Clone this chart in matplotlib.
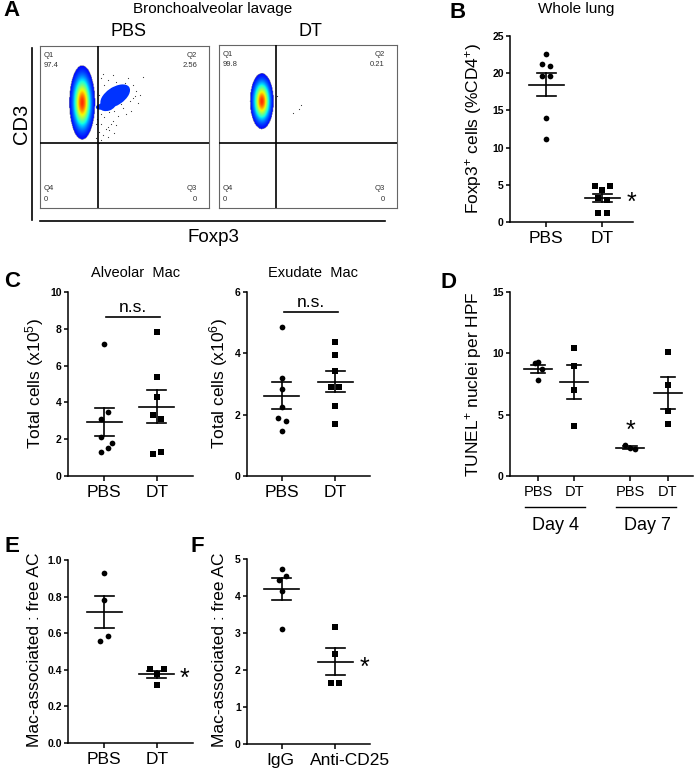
import numpy as np
import matplotlib
matplotlib.use("Agg")
import matplotlib.pyplot as plt
from matplotlib.colors import ListedColormap
from matplotlib.patches import Ellipse
from matplotlib.lines import Line2D
from matplotlib.transforms import ScaledTranslation

plt.rcParams["font.family"] = ["Liberation Sans", "DejaVu Sans"]
plt.rcParams["mathtext.default"] = "regular"

W, H = 696, 774

# ---------------- data ----------------
# A: flow cytometry quadrant statistics
flow_groups = ["PBS", "DT"]
flow_q1 = ["97.4", "99.8"]
flow_q2 = ["2.56", "0.21"]
flow_q3 = ["0", "0"]
flow_q4 = ["0", "0"]
# density blobs (cx, cy, sx, sy) in box fraction
flow_blobs = [(0.249, 0.648, 0.031, 0.093), (0.240, 0.656, 0.027, 0.070)]
pbs_dots_x = [0.36, 0.38, 0.40, 0.42, 0.45, 0.47, 0.50, 0.52, 0.55, 0.57,
              0.35, 0.37, 0.39, 0.41, 0.44, 0.48, 0.53, 0.56, 0.58, 0.61,
              0.34, 0.36, 0.38, 0.40, 0.43, 0.35, 0.37, 0.39, 0.42, 0.46,
              0.33, 0.35, 0.36, 0.38, 0.41, 0.44, 0.49, 0.51, 0.54, 0.59,
              0.37, 0.43, 0.47, 0.52, 0.55, 0.33, 0.34, 0.36, 0.40, 0.45]
pbs_dots_y = [0.80, 0.76, 0.79, 0.74, 0.78, 0.75, 0.77, 0.73, 0.76, 0.72,
              0.70, 0.66, 0.62, 0.59, 0.60, 0.64, 0.66, 0.69, 0.65, 0.81,
              0.55, 0.52, 0.56, 0.50, 0.54, 0.47, 0.45, 0.49, 0.52, 0.57,
              0.43, 0.40, 0.58, 0.61, 0.48, 0.46, 0.62, 0.58, 0.60, 0.70,
              0.83, 0.82, 0.71, 0.80, 0.68, 0.52, 0.63, 0.42, 0.44, 0.51]
dt_dots_x = [0.416, 0.45, 0.46, 0.326]
dt_dots_y = [0.58, 0.61, 0.63, 0.69]

# B: whole lung Foxp3+ (%CD4+)
b_pbs = [22.6, 21.3, 21.0, 19.6, 19.6, 14.0, 11.2]
b_dt = [4.8, 4.8, 4.3, 3.2, 3.0, 1.2, 1.2]

# C: total cells
c_alv_pbs = [7.2, 3.5, 3.1, 2.1, 1.8, 1.5, 1.3]
c_alv_dt = [7.8, 5.4, 4.3, 3.3, 3.1, 1.2, 1.3]
c_exu_pbs = [4.87, 3.2, 2.84, 2.25, 1.89, 1.80, 1.46]
c_exu_dt = [4.38, 3.96, 3.43, 2.89, 2.91, 2.28, 1.71]

# D: TUNEL+ nuclei per HPF
d_labels = ["PBS", "DT", "PBS", "DT"]
d_days = ["Day 4", "Day 7"]
d_pbs4 = [9.21, 9.27, 8.70, 7.83]
d_dt4 = [10.43, 9.0, 7.04, 4.08]
d_pbs7 = [2.5, 2.25, 2.2]
d_dt7 = [10.1, 7.42, 5.27, 4.21]

# E / F: Mac-associated : free AC
e_pbs = [0.931, 0.780, 0.587, 0.560]
e_dt = [0.404, 0.404, 0.375, 0.318]
f_igg = [4.73, 4.54, 4.43, 4.14, 3.10]
f_anti = [3.15, 2.43, 1.66, 1.66]

# horizontal point offsets (pixels) so overlapping points sit side by side
b_dx = [[0, -4.5, 3.5, -4.5, 3.5, 0, 0], [-7.5, 7.5, 0, -4.5, 4.5, -4.5, 4.5]]
c1_dx = [[0, 4, -3.5, -3.5, 7.5, 4, -3.5], [0, 0, 0, -3.7, 3.7, -3.7, 3.7]]
c2_dx = [[0, 0, 0, 0, -3.7, 3.7, 0], [0, 0, 0, -3.7, 3.7, 0, 0]]
d_dx = [[-3.5, 0, 3.5, 0], [0, 0, 0, 0], [-5, 0, 5], [0, 0, 0, 0]]
e_dx = [[0, 0, 3.7, -3.7], [-7.3, 7.3, 0, 0]]
f_dx = [[0, 4, -3, 0, 0], [0, 0, -3.7, 3.7]]

fig = plt.figure(figsize=(W / 100, H / 100), dpi=100)


def add_ax(left, top, right, bottom):
    return fig.add_axes([left / W, 1 - bottom / H, (right - left) / W, (bottom - top) / H])


def ftext(x, y, s, **kw):
    kw.setdefault("ha", "center")
    kw.setdefault("va", "center")
    fig.text(x / W, 1 - y / H, s, **kw)


def fline(xs, ys, lw=1.2):
    fig.add_artist(Line2D([x / W for x in xs], [1 - y / H for y in ys],
                          transform=fig.transFigure, color="k", lw=lw))


def style(ax, xlim, xticks, xlabels, ylim, yticks, ylabs, xsize=12.5):
    ax.set_xlim(*xlim)
    ax.set_ylim(*ylim)
    for s in ["top", "right"]:
        ax.spines[s].set_visible(False)
    for s in ["left", "bottom"]:
        ax.spines[s].set_linewidth(1.1)
    ax.set_xticks(xticks)
    ax.set_xticklabels(xlabels, fontsize=xsize)
    ax.set_yticks(yticks)
    ax.set_yticklabels(ylabs, fontsize=7.5, fontweight="bold")
    ax.tick_params(axis="y", length=3, width=1.1, pad=1.5)
    ax.tick_params(axis="x", length=3.5, width=1.1, pad=3)


def dots(ax, xs, groups, markers, offsets, half_mean=17.5, half_cap=9.5):
    x0, x1 = ax.get_xlim()
    scale = (x1 - x0) / (ax.get_position().width * W)
    for x, vals, m, offs in zip(xs, groups, markers, offsets):
        vals = np.asarray(vals, dtype=float)
        xx = x + np.asarray(offs) * scale
        ax.scatter(xx, vals, marker=m, s=17 if m == "o" else 15, color="k",
                   linewidths=0, zorder=3, clip_on=False)
        mean = vals.mean()
        sem = vals.std(ddof=1) / np.sqrt(len(vals))
        hm, hc = half_mean * scale, half_cap * scale
        ax.plot([x - hm, x + hm], [mean, mean], color="k", lw=1.2, zorder=4)
        ax.plot([x, x], [mean - sem, mean + sem], color="k", lw=1.2, zorder=4)
        for yy in (mean - sem, mean + sem):
            ax.plot([x - hc, x + hc], [yy, yy], color="k", lw=1.2, zorder=4)


# ---------------- A: flow plots ----------------
cmap = ListedColormap(plt.cm.jet(np.linspace(0.13, 0.86, 256)))
boxes = [(40, 46, 209, 208), (219, 45, 397, 208)]
gates = [(0.343, 0.40), (0.32, 0.40)]
g = np.linspace(0, 1, 300)
gx, gy = np.meshgrid(g, g)
for i, (box, gate, blob) in enumerate(zip(boxes, gates, flow_blobs)):
    ax = add_ax(*box)
    ax.set_xlim(0, 1)
    ax.set_ylim(0, 1)
    ax.set_xticks([])
    ax.set_yticks([])
    for s in ax.spines.values():
        s.set_color("#666666")
        s.set_linewidth(0.8)
    cx, cy, sx, sy = blob
    f = np.exp(-0.5 * (((gx - cx) / sx) ** 2 + ((gy - cy) / sy) ** 2))
    f = np.ma.masked_less(f, 0.05)
    if i == 0:
        ax.scatter(pbs_dots_x, pbs_dots_y, s=0.7, color="#333333", linewidths=0, zorder=1)
        ax.add_patch(Ellipse((0.445, 0.69), 0.20, 0.11, angle=35,
                             color="#0033ff", lw=0, zorder=2))
        ax.add_patch(Ellipse((0.40, 0.635), 0.10, 0.07, angle=20,
                             color="#0033ff", lw=0, zorder=2))
        ax.add_patch(Ellipse((0.36, 0.625), 0.06, 0.035, angle=10,
                             color="#0033ff", lw=0, zorder=2))
    else:
        ax.scatter(dt_dots_x, dt_dots_y, s=0.7, color="#333333", linewidths=0, zorder=1)
    ax.imshow(f, cmap=cmap, vmin=0.05, vmax=1, extent=[0, 1, 0, 1],
              origin="lower", aspect="auto", interpolation="bilinear", zorder=3)
    ax.axvline(gate[0], color="k", lw=1.2, zorder=5)
    ax.axhline(gate[1], color="k", lw=1.2, zorder=5)
    kw = dict(fontsize=5.5, color="#333333", transform=ax.transAxes)
    ax.text(0.02, 0.94, "Q1", ha="left", va="center", **kw)
    ax.text(0.02, 0.88, flow_q1[i], ha="left", va="center", **kw)
    ax.text(0.93, 0.94, "Q2", ha="right", va="center", **kw)
    ax.text(0.93, 0.88, flow_q2[i], ha="right", va="center", **kw)
    ax.text(0.02, 0.12, "Q4", ha="left", va="center", **kw)
    ax.text(0.02, 0.055, flow_q4[i], ha="left", va="center", **kw)
    ax.text(0.93, 0.12, "Q3", ha="right", va="center", **kw)
    ax.text(0.93, 0.055, flow_q3[i], ha="right", va="center", **kw)

ftext(213, 9, "Bronchoalveolar lavage", fontsize=11)
ftext(128, 32, flow_groups[0], fontsize=13)
ftext(310, 32, flow_groups[1], fontsize=13)
fline([32, 32], [48, 220])
fline([40, 385], [221, 221])
ftext(22, 124, "CD3", fontsize=14.5, rotation=90)
ftext(213, 237, "Foxp3", fontsize=13.5)

# ---------------- B ----------------
ax = add_ax(510, 36, 633, 222)
style(ax, (0.357, 2.55), [1, 2], ["PBS", "DT"], (0, 25), range(0, 26, 5),
      [str(v) for v in range(0, 26, 5)])
dots(ax, [1, 2], [b_pbs, b_dt], ["o", "s"], b_dx, half_mean=17.5, half_cap=9.5)
ftext(576, 9, "Whole lung", fontsize=11)
ftext(474, 129, "Foxp3$^{+}$ cells (%CD4$^{+}$)", fontsize=12.5, rotation=90)
ftext(631, 203, "*", fontsize=18)

# ---------------- C ----------------
ax = add_ax(68, 292, 193, 476)
style(ax, (0.32, 2.68), [1, 2], ["PBS", "DT"], (0, 10), range(0, 11, 2),
      [str(v) for v in range(0, 11, 2)])
dots(ax, [1, 2], [c_alv_pbs, c_alv_dt], ["o", "s"], c1_dx)
ax.plot([1.03, 2.05], [8.65, 8.65], color="k", lw=1.2, clip_on=False)
ax.text(1.54, 8.75, "n.s.", ha="center", va="bottom", fontsize=12.5)
ftext(136, 273, "Alveolar  Mac", fontsize=10.5)
ftext(35, 384, "Total cells (x10$^{5}$)", fontsize=12.5, rotation=90)

ax = add_ax(247, 292, 370, 476)
style(ax, (0.34, 2.66), [1, 2], ["PBS", "DT"], (0, 6), range(0, 7, 2),
      [str(v) for v in range(0, 7, 2)])
dots(ax, [1, 2], [c_exu_pbs, c_exu_dt], ["o", "s"], c2_dx)
ax.plot([1.04, 2.06], [5.36, 5.36], color="k", lw=1.2, clip_on=False)
ax.text(1.55, 5.42, "n.s.", ha="center", va="bottom", fontsize=12.5)
ftext(313, 273, "Exudate  Mac", fontsize=10.5)
ftext(219, 384, "Total cells (x10$^{6}$)", fontsize=12.5, rotation=90)

# ---------------- D ----------------
ax = add_ax(510, 292, 693, 476)
d_x = [1, 2, 3.55, 4.6]
style(ax, (0.22, 5.3), d_x, d_labels, (0, 15), [0, 5, 10, 15],
      ["0", "5", "10", "15"], xsize=10.5)
dots(ax, d_x, [d_pbs4, d_dt4, d_pbs7, d_dt7], ["o", "s", "o", "s"], d_dx,
     half_mean=14, half_cap=7)
ftext(473, 384, "TUNEL$^{+}$ nuclei per HPF", fontsize=12.5, rotation=90)
ftext(630, 431, "*", fontsize=18)
fline([525, 585], [507, 507], lw=1.0)
fline([616, 676], [507, 507], lw=1.0)
ftext(555, 526, d_days[0], fontsize=13)
ftext(647, 526, d_days[1], fontsize=13)

# ---------------- E ----------------
ax = add_ax(68, 560, 193, 743)
style(ax, (0.32, 2.68), [1, 2], ["PBS", "DT"], (0, 1.0), np.arange(0, 1.01, 0.2),
      [f"{v:.1f}" for v in np.arange(0, 1.01, 0.2)])
dots(ax, [1, 2], [e_pbs, e_dt], ["o", "s"], e_dx)
ftext(35, 650, "Mac-associated : free AC", fontsize=12.5, rotation=90)
ftext(184, 679, "*", fontsize=18)

# ---------------- F ----------------
ax = add_ax(247, 559, 370, 744)
style(ax, (0.34, 2.66), [1, 2], ["IgG", "Anti-CD25"], (0, 5), range(0, 6),
      [str(v) for v in range(0, 6)])
dots(ax, [1, 2], [f_igg, f_anti], ["o", "s"], f_dx)
shifts = [-2, 15]
for lbl, sh in zip(ax.get_xticklabels(), shifts):
    lbl.set_transform(lbl.get_transform() + ScaledTranslation(sh / 100, 0, fig.dpi_scale_trans))
ftext(219, 650, "Mac-associated : free AC", fontsize=12.5, rotation=90)
ftext(364, 668, "*", fontsize=18)

# panel letters
for lab, (x, y) in zip("ABCDEF", [(12, 11), (458, 13), (12, 281), (449, 282),
                                  (12, 546), (197, 546)]):
    ftext(x, y, lab, fontsize=16, fontweight="bold")

fig.savefig("out.png", dpi=100, facecolor="white")
